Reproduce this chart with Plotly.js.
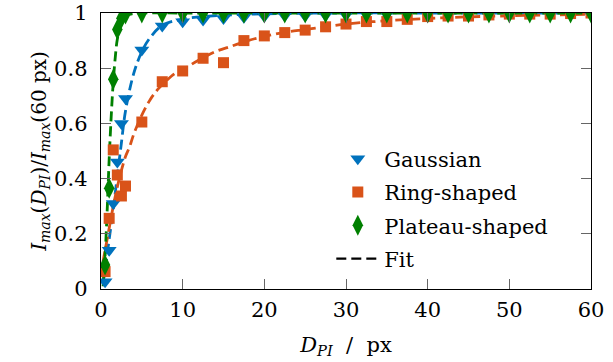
<!DOCTYPE html>
<html>
<head>
<meta charset="utf-8">
<script src="https://cdn.plot.ly/plotly-3.0.1.min.js"></script>
<style>html,body{margin:0;padding:0;background:#fff}#chart{width:613px;height:362px}</style>
</head>
<body>
<div id="chart"></div>
<script>
// Measurement positions D_PI (px)
const dpi = [0.5,1,1.5,2,2.5,3,5,7.5,10,12.5,15,17.5,20,22.5,25,27.5,30,32.5,35,37.5,40,42.5,45,47.5,50,52.5,55,57.5,60];
const gaussian = [0.026,0.14,0.31,0.46,0.60,0.69,0.866,0.953,0.968,0.975,0.98,0.985,0.988,0.99,0.99,0.992,0.993,0.995,0.995,0.996,0.997,0.997,0.998,0.998,0.998,0.999,0.999,1.0,1.0];
const ring = [0.063,0.256,0.504,0.413,0.337,0.373,0.605,0.751,0.79,0.836,0.82,0.90,0.917,0.929,0.938,0.95,0.96,0.969,0.969,0.977,0.987,0.989,0.989,0.993,0.996,0.996,0.996,0.998,1.0];
const plateau = [0.087,0.365,0.76,0.94,0.981,0.996,1,1,1,1,1,1,1,1,1,1,1,1,1,1,1,1,1,1,1,1,1,1,1];

// Fit curves
const gaussFitX = [0.25,0.5,1,1.5,2,2.5,3,4,5,6,7.5,10,15,20,30,40,60];
const gaussFitY = [0.02,0.07,0.18,0.29,0.41,0.53,0.645,0.78,0.86,0.91,0.955,0.978,0.992,0.997,1,1,1];
const ringFitX = [0.25,0.5,1,1.5,2,2.5,3,3.5,4,5,6,7,8,9,10,12,14,16,18,20,22.5,25,27.5,30,35,40,45,50,55,60];
const ringFitY = [0.1,0.14,0.22,0.30,0.37,0.43,0.48,0.515,0.56,0.63,0.685,0.725,0.755,0.78,0.795,0.83,0.86,0.88,0.90,0.915,0.93,0.94,0.95,0.96,0.972,0.98,0.986,0.99,0.993,0.995];
const plateauFitX = [0.25,0.5,0.75,1,1.25,1.5,1.75,2,2.5,3,4,5,10,60];
const plateauFitY = [0.01,0.12,0.28,0.47,0.625,0.75,0.84,0.905,0.965,0.99,0.998,1,1,1];

const names = ['Gaussian','Ring-shaped','Plateau-shaped','Fit'];
const colors = ['#0072BD','#D95319','#008000','#000000'];
const dashStyle = '10px,5px';
const fnt = '"DejaVu Serif", serif';

const traces = [
  {x: gaussFitX, y: gaussFitY, mode:'lines', line:{color:colors[0], width:2.8, dash:dashStyle, shape:'spline'}, showlegend:false, hoverinfo:'skip'},
  {x: ringFitX, y: ringFitY, mode:'lines', line:{color:colors[1], width:2.8, dash:dashStyle, shape:'spline'}, showlegend:false, hoverinfo:'skip'},
  {x: plateauFitX, y: plateauFitY, mode:'lines', line:{color:colors[2], width:2.8, dash:dashStyle, shape:'spline'}, showlegend:false, hoverinfo:'skip'},
  {x: dpi, y: gaussian, name: names[0], legendgroup:'g1', mode:'markers', marker:{symbol:'triangle-down', size:13, color:colors[0]}},
  {x: dpi, y: ring, name: names[1], legendgroup:'g2', mode:'markers', marker:{symbol:'square', size:11, color:colors[1]}},
  {x: dpi, y: plateau, name: names[2], legendgroup:'g3', mode:'markers', marker:{symbol:'diamond-tall', size:15, color:colors[2]}},
  {x: [null], y: [null], name: names[3], legendgroup:'g4', mode:'lines', line:{color:colors[3], width:2.2, dash:dashStyle}}
];

const layout = {
  width: 613, height: 362,
  margin: {l:101, r:22, t:13, b:73},
  paper_bgcolor:'#fff', plot_bgcolor:'#fff',
  font: {family: fnt, size: 21, color:'#000'},
  showlegend: true,
  legend: {x:0.47, y:0.545, xanchor:'left', yanchor:'top', bgcolor:'rgba(0,0,0,0)', borderwidth:0, itemwidth:43, tracegroupgap:3, font:{family:fnt, size:21}},
  xaxis: {
    range:[0,60], tickvals:[0,10,20,30,40,50,60], ticks:'inside', ticklen:10, tickcolor:'#666', tickwidth:1,
    showline:true, linecolor:'#000', linewidth:1.3, mirror:'ticks', showgrid:false, zeroline:false,
    ticklabelstandoff: 1, tickfont:{family:fnt, size:21},
    title:{text:'<i>D</i><sub><i>PI</i></sub>&nbsp; /&nbsp; px', font:{family:fnt, size:21}, standoff: 16}
  },
  yaxis: {
    range:[0,1], tickvals:[0,0.2,0.4,0.6,0.8,1], ticktext:['0','0.2','0.4','0.6','0.8','1'], ticks:'inside', ticklen:10, tickcolor:'#666', tickwidth:1,
    showline:true, linecolor:'#000', linewidth:1.3, mirror:'ticks', showgrid:false, zeroline:false,
    ticklabelstandoff: 8, tickfont:{family:fnt, size:21},
    title:{text:'<i>I</i><sub><i>max</i></sub>(<i>D</i><sub><i>PI</i></sub>)/<i>I</i><sub><i>max</i></sub>(60 px)', font:{family:fnt, size:20}, standoff: 2}
  }
};

Plotly.newPlot('chart', traces, layout, {displayModeBar:false, staticPlot:true});
</script>
</body>
</html>
